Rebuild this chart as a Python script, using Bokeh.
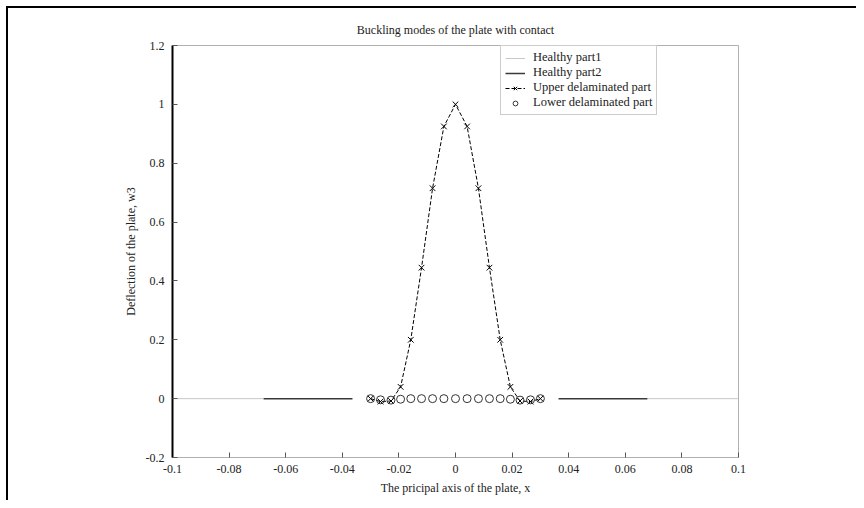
from bokeh.plotting import figure
from bokeh.models import Range1d, FixedTicker, Legend, LegendItem
from bokeh.embed import file_html
from bokeh.resources import INLINE
import math

nan = math.nan

# ---- data ----
x_healthy1 = [-0.1, -0.0678, nan, 0.0678, 0.1]
y_healthy1 = [0.0, 0.0, nan, 0.0, 0.0]

x_healthy2 = [-0.0678, -0.0364, nan, 0.0364, 0.0678]
y_healthy2 = [0.0, 0.0, nan, 0.0, 0.0]

x_mesh = [-0.0300, -0.0265, -0.0228, -0.0194, -0.0158, -0.0120, -0.0081, -0.0041, 0.0,
          0.0041, 0.0081, 0.0120, 0.0158, 0.0194, 0.0228, 0.0265, 0.0300]
y_upper = [0.0, -0.010, -0.008, 0.040, 0.200, 0.445, 0.715, 0.925, 1.0,
           0.925, 0.715, 0.445, 0.200, 0.040, -0.008, -0.010, 0.0]
y_lower = [0.0, -0.004, -0.005, -0.002, 0.0, 0.0, 0.0, 0.0, 0.0,
           0.0, 0.0, 0.0, 0.0, -0.002, -0.005, -0.004, 0.0]

x_ticks = [-0.1, -0.08, -0.06, -0.04, -0.02, 0, 0.02, 0.04, 0.06, 0.08, 0.1]
y_ticks = [-0.2, 0, 0.2, 0.4, 0.6, 0.8, 1.0, 1.2]
x_tick_labels = ["-0.1", "-0.08", "-0.06", "-0.04", "-0.02", "0", "0.02", "0.04", "0.06", "0.08", "0.1"]
y_tick_labels = ["-0.2", "0", "0.2", "0.4", "0.6", "0.8", "1", "1.2"]

FONT = "Liberation Serif"

p = figure(width=856, height=500, output_backend="svg", toolbar_location=None,
           x_range=Range1d(-0.1, 0.1), y_range=Range1d(-0.2, 1.2),
           min_border_left=172, min_border_right=118, min_border_top=45, min_border_bottom=43,
           title="Buckling modes of the plate with contact")
# thin black page rule along the top and left edges (as in the scanned figure)
p.border_fill_color = None
p.background_fill_color = "white"
p.styles = {"box-shadow": "inset 6px 6px 0px 0px white, inset 8px 8px 0px 0px black",
            "background-color": "white"}

p.title.text_font = FONT
p.title.text_font_size = "12px"
p.title.text_font_style = "normal"
p.title.align = "center"
p.title.text_color = "#222222"
p.title.standoff = 18

p.grid.visible = False
p.outline_line_color = "#b0b0b0"
p.outline_line_width = 1

for ax in (p.xaxis[0], p.yaxis[0]):
    ax.major_tick_in = 5
    ax.major_tick_out = 0
    ax.minor_tick_line_color = None
    ax.major_label_text_font = FONT
    ax.major_label_text_font_size = "12px"
    ax.major_label_text_color = "#222222"
    ax.axis_label_text_font = FONT
    ax.axis_label_text_font_size = "12px"
    ax.axis_label_text_font_style = "normal"
    ax.axis_label_text_color = "#222222"
    ax.major_tick_line_color = "#555555"

p.xaxis.ticker = FixedTicker(ticks=x_ticks)
p.yaxis.ticker = FixedTicker(ticks=y_ticks)
p.xaxis.major_label_overrides = {t: l for t, l in zip(x_ticks, x_tick_labels)}
p.yaxis.major_label_overrides = {t: l for t, l in zip(y_ticks, y_tick_labels)}
p.xaxis.axis_label = "The pricipal axis of the plate, x"
p.yaxis.axis_label = "Deflection of the plate, w3"
p.xaxis.axis_line_color = None
p.yaxis.axis_line_color = "black"
p.yaxis.axis_line_width = 2
p.xaxis.major_label_standoff = 7
p.yaxis.major_label_standoff = 8
p.xaxis.axis_label_standoff = 5
p.yaxis.axis_label_standoff = 5

r_h1 = p.line(x_healthy1, y_healthy1, line_color="#c8c8c8", line_width=1)
r_h2 = p.line(x_healthy2, y_healthy2, line_color="#3a3a3a", line_width=1.5)
r_up_l = p.line(x_mesh, y_upper, line_color="black", line_width=1, line_dash="4 2")
r_up_m = p.scatter(x_mesh, y_upper, marker="x", size=8, line_color="black", line_width=1)
r_lo = p.scatter(x_mesh, y_lower, marker="circle", size=8, line_color="#333333",
                 fill_color=None, line_width=1)

legend = Legend(items=[
    LegendItem(label="Healthy part1", renderers=[r_h1]),
    LegendItem(label="Healthy part2", renderers=[r_h2]),
    LegendItem(label="Upper delaminated part", renderers=[r_up_l, r_up_m]),
    LegendItem(label="Lower delaminated part", renderers=[r_lo]),
], location=(328, 342))
legend.label_text_font = FONT
legend.label_text_font_size = "12.5px"
legend.label_text_color = "#222222"
legend.label_height = 12
legend.glyph_height = 12
legend.glyph_width = 20
legend.spacing = 0
legend.padding = 4
legend.margin = 0
legend.label_standoff = 8
legend.border_line_color = "#999999"
legend.border_line_width = 1
legend.background_fill_alpha = 1
p.add_layout(legend, "center")

open("out.html", "w").write(file_html(p, INLINE))
